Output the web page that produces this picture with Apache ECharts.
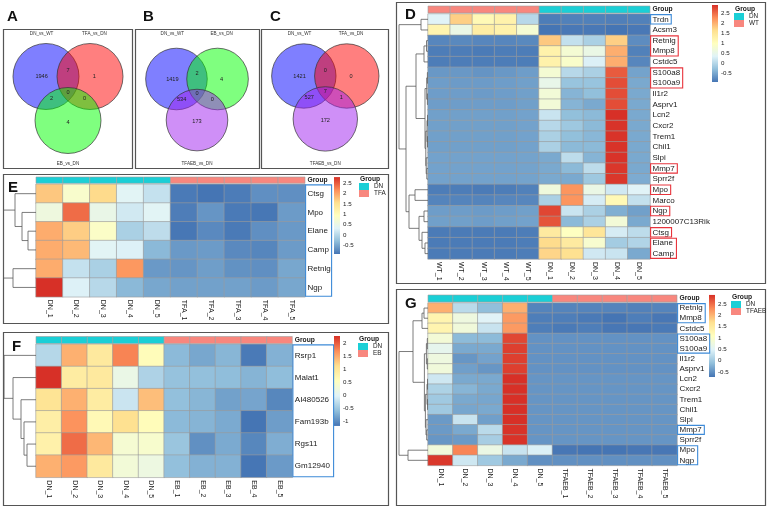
<!DOCTYPE html>
<html>
<head>
<meta charset="utf-8">
<script src="https://cdn.jsdelivr.net/npm/echarts@6/dist/echarts.min.js"></script>
<style>
html, body { margin: 0; padding: 0; background: #fff; }
#chart { width: 767px; height: 508px; }
</style>
</head>
<body>
<div id="chart"></div>
<script>
'use strict';

// ---------- Venn data (region order: only1, 1&2, only2, 1&3, all, 2&3, only3) ----------
const vennASets = ['DN_vs_WT', 'TFA_vs_DN', 'EB_vs_DN'];
const vennACounts = [1946, 7, 1, 2, 0, 0, 4];
const vennBSets = ['DN_vs_WT', 'EB_vs_DN', 'TFAEB_vs_DN'];
const vennBCounts = [1419, 2, 4, 534, 0, 0, 173];
const vennCSets = ['DN_vs_WT', 'TFA_vs_DN', 'TFAEB_vs_DN'];
const vennCCounts = [1421, 0, 0, 527, 7, 1, 172];

// ---------- D: DN vs WT ----------
const dSamples = ['WT_1', 'WT_2', 'WT_3', 'WT_4', 'WT_5', 'DN_1', 'DN_2', 'DN_3', 'DN_4', 'DN_5'];
const dGroups = ['WT', 'WT', 'WT', 'WT', 'WT', 'DN', 'DN', 'DN', 'DN', 'DN'];
const dGenes = ['Trdn', 'Acsm3', 'Retnlg', 'Mmp8', 'Cstdc5', 'S100a8', 'S100a9', 'Il1r2', 'Asprv1', 'Lcn2',
    'Cxcr2', 'Trem1', 'Chil1', 'Slpi', 'Mmp7', 'Sprr2f', 'Mpo', 'Marco', 'Ngp', '1200007C13Rik', 'Ctsg', 'Elane', 'Camp'];
const dValues = [
    [0.35, 1.75, 1.1, 1.25, 0.0, -0.88, -0.85, -0.85, -0.86, -0.85],
    [1.2, 0.55, 1.35, 1.25, 0.75, -0.95, -0.92, -0.92, -0.95, -0.92],
    [-0.8, -0.78, -0.8, -0.8, -0.78, 1.8, 0.1, -0.1, 1.75, -0.75],
    [-0.88, -0.88, -0.9, -0.88, -0.88, 1.25, 0.75, 0.55, 2.0, -0.85],
    [-0.88, -0.88, -0.88, -0.88, -0.88, 1.25, 0.85, 0.3, 2.0, -0.8],
    [-0.65, -0.65, -0.68, -0.65, -0.6, 0.75, 0.0, -0.1, 2.6, -0.55],
    [-0.6, -0.62, -0.62, -0.6, -0.58, 0.5, -0.25, -0.25, 2.7, -0.5],
    [-0.6, -0.6, -0.62, -0.6, -0.58, 0.7, -0.4, -0.3, 2.7, -0.5],
    [-0.6, -0.6, -0.6, -0.6, -0.58, 0.7, -0.4, -0.5, 2.7, -0.5],
    [-0.58, -0.58, -0.58, -0.58, -0.56, 0.15, -0.3, -0.35, 2.9, -0.5],
    [-0.58, -0.58, -0.58, -0.58, -0.56, 0.0, -0.2, -0.35, 2.88, -0.5],
    [-0.58, -0.58, -0.58, -0.58, -0.56, -0.1, -0.3, -0.38, 2.88, -0.5],
    [-0.58, -0.58, -0.58, -0.58, -0.56, -0.1, -0.35, -0.35, 2.88, -0.5],
    [-0.56, -0.56, -0.56, -0.56, -0.55, -0.5, 0.05, -0.4, 2.88, -0.5],
    [-0.56, -0.56, -0.56, -0.56, -0.55, -0.5, -0.35, 0.05, 2.85, -0.5],
    [-0.56, -0.56, -0.56, -0.56, -0.55, -0.5, -0.5, -0.2, 2.85, -0.48],
    [-0.88, -0.88, -0.9, -0.88, -0.85, 0.65, 2.2, 0.55, 0.2, 0.35],
    [-0.82, -0.82, -0.82, -0.8, -0.8, -0.1, 2.2, 0.25, 1.1, 0.1],
    [-0.6, -0.6, -0.62, -0.6, -0.58, 2.75, 0.15, -0.1, -0.45, -0.58],
    [-0.58, -0.58, -0.6, -0.58, -0.56, 2.65, -0.35, -0.1, 0.7, -0.5],
    [-0.9, -0.9, -0.9, -0.9, -0.88, 1.4, 0.95, 1.5, 0.25, 0.05],
    [-0.9, -0.9, -0.9, -0.9, -0.88, 1.65, 1.4, 0.8, -0.15, -0.05],
    [-0.9, -0.9, -0.9, -0.9, -0.88, 1.7, 1.6, 0.2, 0.15, -0.5]
];
// hclust style merges: negative = leaf (1-based), positive = earlier merge (1-based)
const dMerge = [[-6, -7], [-8, -9], [-10, -11], [-12, -13], [3, 4], [1, 2], [-15, -16], [-14, 7], [5, 8], [6, 9],
    [-3, -4], [11, -5], [12, 10], [-22, -23], [-21, 14], [-19, -20], [16, 15], [-1, -2], [-17, -18], [19, 17], [13, 20], [18, 21]];
const dHeight = [0.6, 0.6, 0.5, 0.5, 1.0, 1.3, 1.2, 1.8, 2.2, 3.0, 1.5, 4, 12, 3, 6, 4, 9, 7, 13, 19, 22, 29];
const dBoxUp = [['Retnlg', 'Mmp8'], ['S100a8', 'S100a9'], ['Mmp7'], ['Mpo'], ['Ngp'], ['Ctsg'], ['Elane', 'Camp']];
const dBoxDown = [['Trdn']];
const dTicks = [-0.5, 2.5];

// ---------- E: DN vs TFA ----------
const eSamples = ['DN_1', 'DN_2', 'DN_3', 'DN_4', 'DN_5', 'TFA_1', 'TFA_2', 'TFA_3', 'TFA_4', 'TFA_5'];
const eGroups = ['DN', 'DN', 'DN', 'DN', 'DN', 'TFA', 'TFA', 'TFA', 'TFA', 'TFA'];
const eGenes = ['Ctsg', 'Mpo', 'Elane', 'Camp', 'Retnlg', 'Ngp'];
const eValues = [
    [1.75, 0.8, 1.6, 0.35, 0.1, -0.88, -0.92, -0.86, -0.7, -0.7],
    [0.6, 2.4, 0.5, 0.2, 0.35, -0.85, -0.65, -0.88, -0.9, -0.6],
    [1.95, 1.7, 0.85, -0.1, 0.05, -0.9, -0.75, -0.88, -0.7, -0.62],
    [1.95, 1.85, 0.35, 0.3, -0.35, -0.62, -0.6, -0.75, -0.78, -0.6],
    [1.95, 0.1, -0.1, 2.1, -0.62, -0.65, -0.58, -0.68, -0.7, -0.5],
    [2.8, 0.3, 0.0, -0.35, -0.5, -0.55, -0.55, -0.55, -0.6, -0.5]
];
const eMerge = [[-3, -4], [-2, 1], [-1, 2], [-5, -6], [3, 4]];
const eHeight = [8, 14, 21, 23, 32.5];
const eTicks = [-0.5, 2.5];

// ---------- F: DN vs EB ----------
const fSamples = ['DN_1', 'DN_2', 'DN_3', 'DN_4', 'DN_5', 'EB_1', 'EB_2', 'EB_3', 'EB_4', 'EB_5'];
const fGroups = ['DN', 'DN', 'DN', 'DN', 'DN', 'EB', 'EB', 'EB', 'EB', 'EB'];
const fGenes = ['Rsrp1', 'Malat1', 'AI480526', 'Fam193b', 'Rgs11', 'Gm12940'];
const fValues = [
    [-0.35, 1.45, 0.95, 1.75, 0.6, -0.65, -0.8, -0.68, -1.15, -0.72],
    [2.27, 0.9, 0.95, 0.15, -0.4, -0.58, -0.6, -0.62, -0.7, -0.62],
    [1.05, 1.45, 0.9, -0.2, 1.35, -0.6, -0.68, -0.85, -0.82, -1.05],
    [0.85, 1.65, 0.65, 1.1, 0.6, -0.65, -0.7, -0.78, -1.19, -0.88],
    [0.8, 1.9, 1.4, 0.35, 0.4, -0.55, -0.98, -0.78, -1.05, -0.75],
    [1.45, 1.6, 0.95, 0.3, 0.2, -0.6, -0.72, -0.72, -1.18, -0.9]
];
const fMerge = [[-5, -6], [-4, 1], [-3, 2], [-2, 3], [-1, 4]];
const fHeight = [9, 12, 15, 23, 32];
const fTicks = [-1, 2];

// ---------- G: DN vs TFAEB ----------
const gSamples = ['DN_1', 'DN_2', 'DN_3', 'DN_4', 'DN_5', 'TFAEB_1', 'TFAEB_2', 'TFAEB_3', 'TFAEB_4', 'TFAEB_5'];
const gGroups = ['DN', 'DN', 'DN', 'DN', 'DN', 'TFAEB', 'TFAEB', 'TFAEB', 'TFAEB', 'TFAEB'];
const gGenes = ['Retnlg', 'Mmp8', 'Cstdc5', 'S100a8', 'S100a9', 'Il1r2', 'Asprv1', 'Lcn2', 'Cxcr2', 'Trem1',
    'Chil1', 'Slpi', 'Mmp7', 'Sprr2f', 'Mpo', 'Ngp'];
const gValues = [
    [2.05, 0.2, -0.12, 2.05, -0.6, -0.6, -0.6, -0.6, -0.62, -0.6],
    [1.3, 0.75, 0.5, 2.2, -0.65, -0.65, -0.68, -0.72, -0.65, -0.7],
    [1.3, 0.8, 0.3, 2.2, -0.65, -0.68, -0.65, -0.7, -0.7, -0.68],
    [0.85, -0.15, -0.15, 2.75, -0.48, -0.48, -0.48, -0.48, -0.48, -0.48],
    [0.6, -0.3, -0.3, 2.8, -0.48, -0.48, -0.48, -0.48, -0.48, -0.48],
    [0.75, -0.45, -0.35, 2.8, -0.48, -0.48, -0.48, -0.48, -0.48, -0.48],
    [0.8, -0.38, -0.45, 2.8, -0.48, -0.48, -0.48, -0.48, -0.48, -0.48],
    [0.35, -0.3, -0.3, 2.9, -0.46, -0.46, -0.46, -0.46, -0.46, -0.46],
    [0.1, -0.2, -0.3, 2.9, -0.46, -0.46, -0.46, -0.46, -0.46, -0.46],
    [0.0, -0.3, -0.32, 2.9, -0.46, -0.46, -0.46, -0.46, -0.46, -0.46],
    [0.0, -0.32, -0.3, 2.9, -0.46, -0.46, -0.46, -0.46, -0.46, -0.46],
    [-0.42, 0.3, -0.38, 2.9, -0.46, -0.46, -0.46, -0.46, -0.46, -0.46],
    [-0.42, -0.3, 0.2, 2.88, -0.46, -0.46, -0.46, -0.46, -0.46, -0.46],
    [-0.45, -0.42, 0.05, 2.88, -0.46, -0.46, -0.46, -0.46, -0.46, -0.46],
    [0.8, 2.35, 0.7, 0.3, 0.45, -0.7, -0.72, -0.72, -0.7, -0.7],
    [2.85, 0.35, 0.0, -0.3, -0.5, -0.5, -0.5, -0.5, -0.5, -0.5]
];
const gMerge = [[-4, -5], [-6, -7], [1, 2], [-8, -9], [-10, -11], [4, 5], [-13, -14], [-12, 7], [6, 8], [3, 9],
    [-1, -2], [11, -3], [12, 10], [-15, -16], [13, 14]];
const gHeight = [0.7, 0.7, 1.6, 0.5, 0.5, 1.0, 1.3, 2.0, 2.6, 3.6, 4, 6, 15, 20, 29];
const gBoxDown = [['Retnlg', 'Mmp8'], ['S100a8', 'S100a9'], ['Mmp7'], ['Mpo', 'Ngp']];
const gTicks = [-0.5, 2.5];

// ---------- styles ----------
const FONT = '"Liberation Sans", Arial, sans-serif';
const PALETTE = ['#4575B4', '#91BFDB', '#E0F3F8', '#FFFFBF', '#FEE090', '#FC8D59', '#D73027'];
const GROUP_COLORS = {DN: '#1BCFD6', WT: '#F8877E', TFA: '#F8877E', EB: '#F8877E', TFAEB: '#F8877E'};
const SET_COLORS = {DN_vs_WT: 'rgba(0,0,255,0.5)', TFA_vs_DN: 'rgba(255,0,0,0.5)',
    EB_vs_DN: 'rgba(0,255,0,0.5)', TFAEB_vs_DN: 'rgba(160,32,240,0.5)'};
const BOX_UP = '#E8343C', BOX_DOWN = '#3D8AD8';
// fixed 3-set venn geometry, in circle radii
const VENN_CENTERS = [[-0.667, 0], [0.667, 0], [0, -1.333]];
const VENN_REGIONS = [[-0.8, 0], [0, 0.17], [0.8, 0], [-0.5, -0.68], [0, -0.47], [0.5, -0.68], [0, -1.38]];
const VENN_NAME_X = [-0.8, 0.8, 0];

const measureCtx = document.createElement('canvas').getContext('2d');
function textWidth(s, size) {
    measureCtx.font = size + 'px "Liberation Sans"';
    return measureCtx.measureText(s).width;
}

const option = {
    animation: false,
    grid: [], xAxis: [], yAxis: [], series: [], visualMap: [], legend: [], graphic: []
};

function addGrid(g, xa, ya) {
    g.containLabel = false;
    g.outerBoundsMode = 'none';
    option.grid.push(g);
    const gi = option.grid.length - 1;
    xa.gridIndex = gi;
    ya.gridIndex = gi;
    option.xAxis.push(xa);
    option.yAxis.push(ya);
    return gi;
}

// cx, cy: centre of the two upper circles; u: circle radius in px; nameY: top / bottom set-name baselines
function addVenn(sets, counts, cx, cy, u, nameY) {
    const gi = addGrid({left: cx - 1.8 * u, top: cy - 1.1 * u, width: 3.6 * u, height: 3.6 * u},
        {type: 'value', min: -1.8, max: 1.8, show: false},
        {type: 'value', min: -2.5, max: 1.1, show: false});
    option.series.push({
        type: 'custom', xAxisIndex: gi, yAxisIndex: gi, silent: true, clip: false,
        data: sets.map((s, i) => [i]),
        renderItem: function (params, api) {
            const i = api.value(0);
            const c = api.coord(VENN_CENTERS[i]);
            const r = api.size([1, 1])[0];
            return {type: 'circle', shape: {cx: c[0], cy: c[1], r: r},
                style: {fill: SET_COLORS[sets[i]], stroke: '#333', lineWidth: 0.7}};
        }
    });
    option.series.push({
        type: 'custom', xAxisIndex: gi, yAxisIndex: gi, silent: true, clip: false, z: 5,
        data: counts.map((c, i) => [i, c]),
        renderItem: function (params, api) {
            const c = api.coord(VENN_REGIONS[api.value(0)]);
            return {type: 'text', x: c[0], y: c[1],
                style: {text: String(api.value(1)), fontSize: 5.6, fontFamily: FONT, fill: '#222',
                    align: 'center', verticalAlign: 'middle'}};
        }
    });
    option.series.push({
        type: 'custom', xAxisIndex: gi, yAxisIndex: gi, silent: true, clip: false, z: 5,
        data: sets.map((s, i) => [i]),
        renderItem: function (params, api) {
            const i = api.value(0);
            const c = api.coord([VENN_NAME_X[i], 0]);
            return {type: 'text', x: c[0], y: i < 2 ? nameY[0] : nameY[1],
                style: {text: sets[i], fontSize: 4.6, fontFamily: FONT, fill: '#333',
                    align: 'center', verticalAlign: 'middle'}};
        }
    });
}

function addHeatmap(p, L) {
    const nR = p.genes.length, nC = p.samples.length;
    const W = nC * L.cellW, H = nR * L.cellH;

    // main heatmap
    const hm = addGrid({left: L.left, top: L.top, width: W, height: H},
        {type: 'category', data: p.samples, position: 'bottom',
            axisLine: {show: false}, axisTick: {show: false}, splitLine: {show: false},
            axisLabel: {rotate: -90, fontSize: 7, margin: 3, color: '#222', fontFamily: FONT, interval: 0}},
        {type: 'category', data: p.genes, inverse: true, position: 'right',
            axisLine: {show: false}, axisTick: {show: false}, splitLine: {show: false},
            axisLabel: {fontSize: L.labelSize, margin: 2.5, color: '#1a1a1a', fontFamily: FONT, interval: 0}});
    const cells = [];
    let mn = Infinity, mx = -Infinity;
    p.values.forEach((row, r) => row.forEach((v, c) => {
        cells.push([c, r, v]);
        mn = Math.min(mn, v);
        mx = Math.max(mx, v);
    }));
    option.series.push({
        type: 'heatmap', xAxisIndex: hm, yAxisIndex: hm, data: cells, silent: true,
        itemStyle: {borderColor: '#9a9a9a', borderWidth: 0.6},
        emphasis: {disabled: true}
    });
    option.visualMap.push({
        type: 'continuous', show: false, seriesIndex: option.series.length - 1,
        dimension: 2, min: mn, max: mx, inRange: {color: PALETTE}
    });

    // highlight boxes around gene names
    const boxData = [];
    const addBoxes = (list, kind) => (list || []).forEach(genes => {
        const rows = genes.map(g => p.genes.indexOf(g));
        const w = Math.max.apply(null, genes.map(g => textWidth(g, L.labelSize))) + 4.5;
        boxData.push([Math.min.apply(null, rows), Math.max.apply(null, rows), kind, w]);
    });
    addBoxes(p.boxUp, 0);
    addBoxes(p.boxDown, 1);
    if (L.fullBoxRight) {
        boxData.push([0, nR - 1, 1, L.fullBoxRight - (L.left + W)]);
    }
    option.series.push({
        type: 'custom', xAxisIndex: hm, yAxisIndex: hm, silent: true, clip: false, z: 6,
        data: boxData,
        renderItem: function (params, api) {
            const band = api.size([1, 1]);
            const a = api.coord([nC - 1, api.value(0)]);
            const b = api.coord([nC - 1, api.value(1)]);
            const x = a[0] + band[0] / 2 + 0.6;
            const y0 = a[1] - band[1] / 2 + 0.6, y1 = b[1] + band[1] / 2 - 0.6;
            return {type: 'rect', shape: {x: x, y: y0, width: api.value(3), height: y1 - y0},
                style: {fill: null, stroke: api.value(2) ? BOX_DOWN : BOX_UP, lineWidth: 1.1}};
        }
    });

    // group annotation bar
    const an = addGrid({left: L.left, top: L.annTop, width: W, height: L.annH},
        {type: 'category', data: p.samples, show: false},
        {type: 'category', data: ['Group'], position: 'right',
            axisLine: {show: false}, axisTick: {show: false}, splitLine: {show: false},
            axisLabel: {fontSize: 6.7, fontWeight: 'bold', margin: 2.5, color: '#1a1a1a', fontFamily: FONT}});
    p.groupOrder.forEach(gname => {
        option.series.push({
            type: 'custom', name: gname, xAxisIndex: an, yAxisIndex: an, silent: true,
            itemStyle: {color: GROUP_COLORS[gname]},
            data: p.samples.map((s, i) => [i, 0]).filter((d, i) => p.groups[i] === gname),
            renderItem: function (params, api) {
                const c = api.coord([api.value(0), api.value(1)]);
                const s = api.size([1, 1]);
                return {type: 'rect', shape: {x: c[0] - s[0] / 2, y: c[1] - s[1] / 2, width: s[0], height: s[1]},
                    style: {fill: GROUP_COLORS[gname], stroke: '#a0a0a0', lineWidth: 0.6}};
            }
        });
    });

    // dendrogram
    const maxH = Math.max.apply(null, p.height);
    const nodeY = [], nodeH = [];
    const pos = (ref) => ref < 0 ? [0, -ref - 0.5] : [nodeH[ref - 1], nodeY[ref - 1]];
    const links = p.merge.map((m, k) => {
        const A = pos(m[0]), B = pos(m[1]);
        nodeY[k] = (A[1] + B[1]) / 2;
        nodeH[k] = p.height[k];
        return [A[0], A[1], p.height[k], B[0], B[1]];
    });
    const dg = addGrid({left: L.left - maxH, top: L.top, width: maxH, height: H},
        {type: 'value', min: 0, max: maxH, inverse: true, show: false},
        {type: 'value', min: 0, max: nR, inverse: true, show: false});
    option.series.push({
        type: 'custom', xAxisIndex: dg, yAxisIndex: dg, silent: true, clip: false,
        data: links,
        renderItem: function (params, api) {
            const h = api.value(2);
            const pts = [
                api.coord([api.value(0), api.value(1)]),
                api.coord([h, api.value(1)]),
                api.coord([h, api.value(4)]),
                api.coord([api.value(3), api.value(4)])
            ];
            return {type: 'polyline', shape: {points: pts},
                style: {fill: null, stroke: '#5a5a5a', lineWidth: 0.8}};
        }
    });

    // colour key
    const cb = addGrid({left: L.cbLeft, width: 6, top: L.cbTickTop, height: L.cbTickBottom - L.cbTickTop},
        {type: 'value', min: 0, max: 1, show: false},
        {type: 'value', min: p.ticks[0], max: p.ticks[1], interval: 0.5, position: 'right',
            axisLine: {show: false}, axisTick: {show: false}, splitLine: {show: false},
            axisLabel: {fontSize: 6.2, margin: 3, color: '#222', fontFamily: FONT}});
    option.series.push({
        type: 'custom', xAxisIndex: cb, yAxisIndex: cb, silent: true, clip: false,
        data: [[mn, mx]],
        renderItem: function (params, api) {
            const top = api.coord([0, api.value(1)]);
            const bot = api.coord([1, api.value(0)]);
            return {type: 'rect', shape: {x: top[0], y: top[1], width: bot[0] - top[0], height: bot[1] - top[1]},
                style: {fill: {type: 'linear', x: 0, y: 1, x2: 0, y2: 0,
                    colorStops: PALETTE.map((c, i) => ({offset: i / (PALETTE.length - 1), color: c}))}}};
        }
    });

    // group legend
    option.legend.push({
        left: L.legX, top: L.legY, orient: 'vertical', padding: 0, itemGap: 0,
        itemWidth: 10, itemHeight: 7, icon: 'rect', selectedMode: false,
        data: p.groupOrder.map(n => ({name: n, itemStyle: {color: GROUP_COLORS[n], borderWidth: 0}})),
        textStyle: {fontSize: 6.4, color: '#222', fontFamily: FONT, lineHeight: 7}
    });
    option.graphic.push({type: 'text', left: L.legX + 1, top: L.legY - 7.5, silent: true,
        style: {text: 'Group', font: 'bold 6.7px ' + FONT, fill: '#1a1a1a'}});
}

// ---------- build ----------
addVenn(vennASets, vennACounts, 68, 76.5, 33, [34, 164]);
addVenn(vennBSets, vennBCounts, 197, 79, 30.8, [34, 164]);
addVenn(vennCSets, vennCCounts, 325.3, 76, 32.2, [34, 164]);

addHeatmap({samples: dSamples, groups: dGroups, genes: dGenes, values: dValues, merge: dMerge, height: dHeight,
        boxUp: dBoxUp, boxDown: dBoxDown, ticks: dTicks, groupOrder: ['DN', 'WT']},
    {left: 428, top: 14, cellW: 22.2, cellH: 10.65, labelSize: 8, annTop: 6, annH: 7,
        cbLeft: 712, cbTickTop: 13, cbTickBottom: 73, legX: 734, legY: 13});
addHeatmap({samples: eSamples, groups: eGroups, genes: eGenes, values: eValues, merge: eMerge, height: eHeight,
        ticks: eTicks, groupOrder: ['DN', 'TFA']},
    {left: 36, top: 184.3, cellW: 26.9, cellH: 18.75, labelSize: 8, annTop: 177, annH: 6.3,
        cbLeft: 334, cbTickTop: 183.3, cbTickBottom: 245.3, legX: 359, legY: 183, fullBoxRight: 331});
addHeatmap({samples: fSamples, groups: fGroups, genes: fGenes, values: fValues, merge: fMerge, height: fHeight,
        ticks: fTicks, groupOrder: ['DN', 'EB']},
    {left: 36, top: 344.3, cellW: 25.63, cellH: 22.17, labelSize: 8, annTop: 336.5, annH: 7,
        cbLeft: 334, cbTickTop: 343, cbTickBottom: 421, legX: 358, legY: 343, fullBoxRight: 333});
addHeatmap({samples: gSamples, groups: gGroups, genes: gGenes, values: gValues, merge: gMerge, height: gHeight,
        boxDown: gBoxDown, ticks: gTicks, groupOrder: ['DN', 'TFAEB']},
    {left: 428, top: 303, cellW: 24.9, cellH: 10.15, labelSize: 8, annTop: 295, annH: 7,
        cbLeft: 709, cbTickTop: 304, cbTickBottom: 372, legX: 731, legY: 301});

// panel frames and letters
const frames = [[3, 29, 129, 139], [135, 29, 124, 139], [261, 29, 127, 139], [396, 2, 369, 281],
    [3, 174, 385, 149], [3, 332, 385, 173], [396, 289, 369, 216]];
frames.forEach(f => option.graphic.push({type: 'rect', silent: true, z: -1,
    shape: {x: f[0] + 0.5, y: f[1] + 0.5, width: f[2], height: f[3]},
    style: {fill: null, stroke: '#555', lineWidth: 1.2}}));
const letters = [['A', 7, 9], ['B', 143, 9], ['C', 270, 9], ['D', 405, 7], ['E', 8, 180], ['F', 12, 339], ['G', 405, 296]];
letters.forEach(l => option.graphic.push({type: 'text', left: l[1], top: l[2], silent: true,
    style: {text: l[0], font: 'bold 15px ' + FONT, fill: '#111'}}));

const chart = echarts.init(document.getElementById('chart'), null, {renderer: 'canvas'});
chart.setOption(option);
</script>
</body>
</html>
